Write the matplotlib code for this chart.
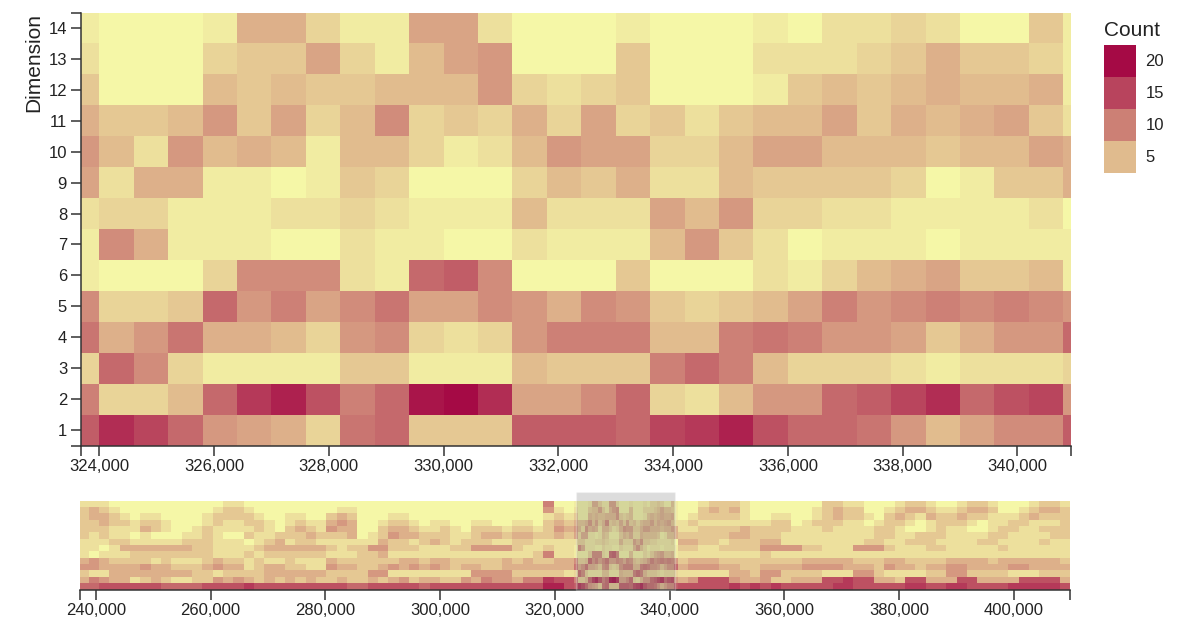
import numpy as np
import matplotlib
matplotlib.use("Agg")
import matplotlib.pyplot as plt
import matplotlib.transforms as mtransforms
from matplotlib.colors import LinearSegmentedColormap, Normalize
from matplotlib.patches import Rectangle
from matplotlib.ticker import FixedLocator

plt.rcParams["font.family"] = ["Liberation Sans", "DejaVu Sans"]

# rows are listed from Dimension 14 (top) down to Dimension 1 (bottom)
dimensions = list(range(14, 0, -1))

# detail view: 600 bp bins starting at 323,400
detail_bin_start = 323400
detail_bin_width = 600
detail_counts = [
    [1, 0, 0, 0, 1, 6, 6, 3, 1, 1, 7, 7, 2, 0, 0, 0, 1, 0, 0, 0, 1, 0, 2, 2, 3, 2, 0, 0, 4, 1],
    [2, 0, 0, 0, 3, 4, 4, 7, 3, 1, 5, 7, 8, 0, 0, 0, 4, 0, 0, 0, 2, 2, 2, 3, 4, 6, 4, 4, 3, 1],
    [4, 0, 0, 0, 5, 4, 5, 4, 4, 5, 5, 5, 8, 3, 2, 3, 4, 0, 0, 0, 1, 4, 5, 4, 5, 6, 5, 5, 6, 1],
    [6, 4, 4, 5, 8, 4, 7, 3, 5, 9, 3, 4, 3, 6, 3, 7, 3, 4, 2, 4, 5, 5, 7, 4, 6, 5, 6, 7, 4, 2],
    [8, 5, 2, 8, 5, 6, 5, 1, 5, 5, 3, 1, 2, 5, 8, 7, 7, 3, 3, 5, 7, 7, 5, 5, 5, 4, 5, 5, 7, 6],
    [7, 2, 6, 6, 1, 1, 0, 1, 4, 3, 0, 0, 0, 3, 5, 4, 6, 2, 2, 5, 4, 4, 4, 4, 3, 0, 1, 4, 4, 6],
    [2, 3, 3, 1, 1, 1, 2, 2, 3, 2, 1, 1, 1, 5, 2, 2, 2, 7, 5, 8, 3, 3, 2, 2, 1, 1, 1, 1, 2, 0],
    [1, 9, 6, 1, 1, 1, 0, 0, 2, 1, 1, 0, 0, 2, 1, 1, 1, 5, 8, 4, 2, 0, 1, 1, 1, 0, 1, 1, 1, 1],
    [1, 0, 0, 0, 3, 9, 9, 9, 2, 1, 12, 13, 9, 0, 0, 0, 4, 0, 0, 0, 2, 1, 3, 5, 6, 7, 4, 4, 5, 1],
    [9, 3, 3, 4, 12, 8, 10, 7, 9, 11, 7, 7, 9, 8, 6, 9, 8, 4, 3, 4, 5, 7, 10, 8, 9, 10, 9, 10, 9, 8],
    [11, 6, 8, 11, 6, 6, 5, 3, 8, 9, 3, 2, 3, 8, 10, 10, 10, 5, 5, 10, 11, 10, 8, 8, 7, 4, 6, 8, 8, 12],
    [3, 12, 9, 3, 1, 1, 1, 1, 4, 4, 1, 1, 1, 5, 4, 4, 4, 10, 12, 10, 5, 3, 3, 3, 2, 1, 2, 2, 2, 3],
    [10, 3, 3, 5, 12, 16, 18, 14, 10, 12, 19, 20, 17, 7, 7, 9, 12, 3, 2, 5, 8, 8, 12, 13, 15, 17, 12, 14, 15, 8],
    [13, 17, 15, 12, 8, 7, 6, 3, 11, 12, 4, 4, 4, 13, 13, 13, 12, 15, 16, 18, 14, 12, 12, 11, 8, 5, 7, 9, 9, 13],
]

# overview outside the brushed window, read at 1,800 bp resolution (digit = count / 2)
overview_bin_width = 1800
overview_left_start = 237000
overview_left = [
    "111000000000001100000000000000000000000000000500",
    "232100000000012210000000011000000000000000000410",
    "233210110000122221001100232000110000000000000121",
    "223221221000121122101211343001221011001100110232",
    "222111321001211112102321433002332112102221221243",
    "212110100011210021122232223012433222112332332232",
    "111221111122211101231221111113221232122211221111",
    "110133333332211112333333212244222111224444211211",
    "101112222222211121222222111223111111111111112511",
    "343222212111232212112111322222233233222223232233",
    "443333433222343312332211433223434343233223333333",
    "211333333332212222333333222244111111114444222221",
    "354331232112243432323232232232342332243544355877",
    "667777776666777787777777776677777677777777777997",
]
overview_right_start = 341400
overview_right = [
    "00122210000000221100012210012210001221",
    "00232310000001232200123321123320012332",
    "01222210011001232210232132232211123222",
    "12111111122012221101221012221011221112",
    "11222232222111211112210012110012211222",
    "22222332221111111112211222111122111122",
    "33221222331111111122112221111221111211",
    "22112222444422111444211122111112111111",
    "11111111211111111111111111111111111111",
    "23332222222233333222332222333323333332",
    "34443322333344443332433233443333443333",
    "11111332442222111442111122442222111222",
    "34777433422333778773327733377333377773",
    "77777878787777788777778877887777888887",
]

detail_domain = (323681, 340930)
overview_domain = (237330, 409760)
detail_ticks = list(range(324000, 340001, 2000))
overview_ticks = list(range(240000, 400001, 20000))
legend_values = [20, 15, 10, 5]

W, H = 1191, 624
cmap = LinearSegmentedColormap.from_list("count", ["#f5f7a7", "#a50a45"])
norm = Normalize(vmin=0, vmax=20)
axis_color = "#333333"
label_color = "#222222"


def style_axis(ax, tick_len=7):
    ax.tick_params(which="both", length=tick_len, width=1.1, color=axis_color,
                   labelcolor=label_color, labelsize=12, pad=3)
    ax.tick_params(which="minor", labelleft=False, labelbottom=False)
    for side in ("top", "right"):
        ax.spines[side].set_visible(False)
    for side in ("left", "bottom"):
        ax.spines[side].set_color(axis_color)
        ax.spines[side].set_linewidth(1.1)


fig = plt.figure(figsize=(W / 100, H / 100), dpi=100)

# ---- detail heatmap ----
ax = fig.add_axes([81 / W, 1 - 445.5 / H, (1070.7 - 81) / W, 433 / H])
detail = np.array(detail_counts)[::-1]
x_edges = detail_bin_start + detail_bin_width * np.arange(detail.shape[1] + 1)
y_edges = np.arange(0.5, len(dimensions) + 1, 1.0)
ax.pcolormesh(x_edges, y_edges, detail, cmap=cmap, norm=norm, shading="flat")
ax.set_xlim(*detail_domain)
ax.set_ylim(0.5, 14.5)
ax.set_xticks(detail_ticks)
ax.set_xticklabels([f"{t:,}" for t in detail_ticks])
ax.set_yticks(sorted(dimensions))
ax.xaxis.set_minor_locator(FixedLocator(list(detail_domain)))
ax.yaxis.set_minor_locator(FixedLocator([0.5, 14.5]))
style_axis(ax)
fig.text(34 / W, 1 - 13 / H, "Dimension", rotation=90, ha="center", va="top",
         fontsize=15, color=label_color)

# ---- overview heatmap ----
ax2 = fig.add_axes([80.4 / W, 1 - 589.5 / H, (1070 - 80.4) / W, 89 / H])
left = np.array([[int(ch) * 2 for ch in row] for row in overview_left])[::-1]
right = np.array([[int(ch) * 2 for ch in row] for row in overview_right])[::-1]
overview = np.hstack([left, detail, right])
ov_edges = np.concatenate([
    overview_left_start + overview_bin_width * np.arange(left.shape[1] + 1),
    detail_bin_start + detail_bin_width * np.arange(1, detail.shape[1] + 1),
    overview_right_start + overview_bin_width * np.arange(1, right.shape[1] + 1),
])
ax2.pcolormesh(ov_edges, y_edges, overview, cmap=cmap, norm=norm, shading="flat")
ax2.set_xlim(*overview_domain)
ax2.set_ylim(0.5, 14.5)
ax2.set_xticks(overview_ticks)
ax2.set_xticklabels([f"{t:,}" for t in overview_ticks])
ax2.xaxis.set_minor_locator(FixedLocator(list(overview_domain)))
ax2.set_yticks([])
style_axis(ax2)
ax2.spines["left"].set_visible(False)

# brush over the overview
trans = mtransforms.blended_transform_factory(ax2.transData, ax2.transAxes)
ax2.add_patch(Rectangle((detail_domain[0], 0), detail_domain[1] - detail_domain[0], 1.095,
                        transform=trans, facecolor="#777777", alpha=0.25,
                        edgecolor="white", linewidth=1, clip_on=False, zorder=3))

# ---- legend ----
lax = fig.add_axes([1104 / W, 1 - 173 / H, 32 / W, 128 / H])
lax.imshow(np.array(legend_values).reshape(-1, 1), cmap=cmap, norm=norm,
           aspect="auto", extent=(0, 1, 0, len(legend_values)))
lax.set_xlim(0, 1)
lax.set_ylim(0, len(legend_values))
lax.axis("off")
for i, v in enumerate(legend_values):
    lax.text(1.3, len(legend_values) - i - 0.5, str(v), ha="left", va="center",
             fontsize=12, color=label_color)
fig.text(1104 / W, 1 - 30 / H, "Count", ha="left", va="center", fontsize=15,
         color=label_color)

fig.savefig("out.png", dpi=100)
